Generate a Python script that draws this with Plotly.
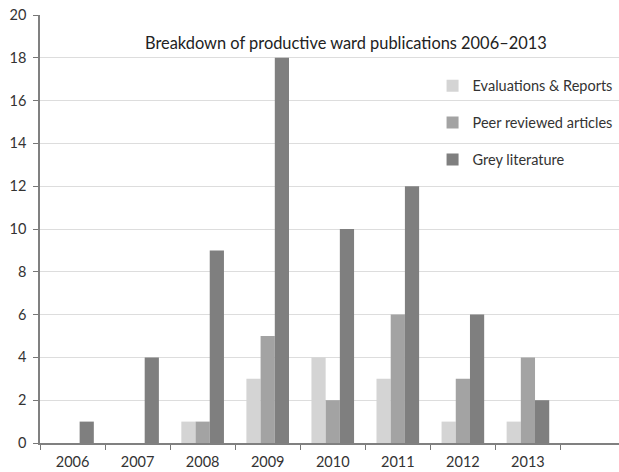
import plotly.graph_objects as go

years = ["2006", "2007", "2008", "2009", "2010", "2011", "2012", "2013"]
evaluations = [0, 0, 1, 3, 4, 3, 1, 1]
peer_reviewed = [0, 0, 1, 5, 2, 6, 3, 4]
grey_lit = [1, 4, 9, 18, 10, 12, 6, 2]

series = [
    ("Evaluations & Reports", evaluations, "#d4d4d4"),
    ("Peer reviewed articles", peer_reviewed, "#a3a3a3"),
    ("Grey literature", grey_lit, "#7f7f7f"),
]

FONT = "Lato, Open Sans, sans-serif"
fig = go.Figure()
for i, (name, vals, col) in enumerate(series):
    fig.add_trace(go.Bar(x=years, y=vals, name=name, marker_color=col,
                         marker_line_width=0, legendgroup=f"g{i}"))

fig.update_layout(
    width=619, height=472,
    margin=dict(l=40, r=0, t=15, b=29),
    barmode="group", bargap=0.345, bargroupgap=0,
    plot_bgcolor="white", paper_bgcolor="white",
    font=dict(family=FONT, size=14, color="#333333"),
    showlegend=True,
    legend=dict(x=0.678, y=0.872, xanchor="left", yanchor="top",
                bgcolor="rgba(0,0,0,0)", tracegroupgap=15,
                font=dict(size=14.5, color="#333333"),
                itemwidth=30),
    annotations=[dict(text="Breakdown of productive ward publications 2006\u20132013",
                      x=0.529, y=0.935, xref="paper", yref="paper",
                      xanchor="center", yanchor="middle",
                      showarrow=False, font=dict(size=16.4, color="#222222"))],
)
fig.update_xaxes(type="category", range=[-0.5, 8.4], tickson="boundaries",
                 ticks="outside", ticklen=5, tickcolor="#777777",
                 showline=True, linecolor="#808080", linewidth=1.5,
                 showgrid=False, tickfont=dict(size=14.5),
                 ticklabelstandoff=5)
fig.update_yaxes(range=[0, 20], dtick=2, ticks="outside", ticklen=5,
                 tickcolor="#777777", showline=True, linecolor="#808080",
                 linewidth=1.5, gridcolor="#dddddd", gridwidth=1,
                 zeroline=False, tickfont=dict(size=14.5),
                 ticklabelstandoff=4)

fig.write_html("out.html", config={"displayModeBar": False},
               post_script="document.body.style.margin='0';")
